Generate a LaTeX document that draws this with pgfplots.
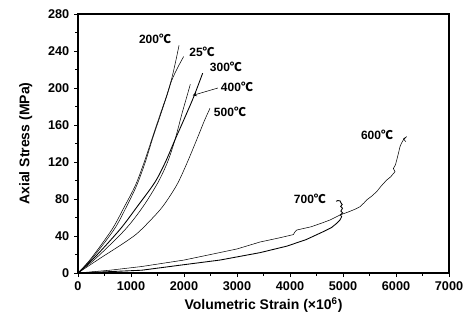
\documentclass[border=0pt]{standalone}
\usepackage{pgfplots}
\pgfplotsset{compat=1.18}
\usepackage{fontspec}
\setmainfont{Liberation Sans}
\newfontfamily\cjk{Noto Sans CJK SC}
\newcommand{\dc}{{\cjk ℃}}
\begin{document}
\begin{tikzpicture}
\begin{axis}[
  name=ax,
  scale only axis,
  width=278.25pt, height=194.25pt,
  xmin=0, xmax=7000, ymin=0, ymax=280,
  xtick={0,1000,...,7000}, ytick={0,40,...,280},
  minor x tick num=1, minor y tick num=1,
  xtick pos=bottom, ytick pos=left,
  tick align=outside,
  major tick length=3pt, minor tick length=2pt,
  axis line style={line width=0.9pt},
  every tick/.style={line width=0.7pt, black},
  scaled x ticks=false,
  /pgf/number format/assume math mode=true,
  /pgf/number format/set thousands separator={},
  ticklabel style={font=\bfseries\fontsize{9.5}{10}\selectfont},
  xlabel={\bfseries Volumetric Strain (×10\textsuperscript{6})},
  ylabel={\bfseries Axial Stress (MPa)},
  label style={font=\fontsize{10.5}{12}\selectfont},
  xlabel style={yshift=2pt},
  ylabel style={yshift=5pt},
  cycle list={{black, solid, line width=0.65pt, no marks}},
  clip=false,
]
% 200 C
\addplot+[smooth] coordinates {(0,0)(250,16)(640,47)(860,70)(1085,95)(1250,120)(1390,144)(1530,168)(1673,192)(1767,210)(1840,228)(1906,246)};
% 25 C
\addplot+[smooth] coordinates {(0,0)(270,16)(680,47)(900,70)(1110,95)(1270,120)(1400,144)(1540,168)(1680,192)(1767,208)(1880,222)(1994,234)};
% 300 C (longer)
\addplot+[smooth] coordinates {(0,0)(300,16)(790,47)(1120,72)(1450,98)(1650,120)(1830,144)(2000,166)(2180,190)(2352,216)};
% 400 C (shorter)
\addplot+[smooth] coordinates {(0,0)(340,16)(890,47)(1230,72)(1510,98)(1690,120)(1830,144)(1960,172)(2050,190)(2119,204)};
% 500 C
\addplot+[smooth] coordinates {(0,0)(420,16)(800,30)(1100,42)(1350,56)(1600,72)(1862,95)(2050,118)(2239,144)(2380,164)(2490,178)};
% 600 C
\addplot coordinates {(0,0)(600,3)(1200,7)(2000,14)(2460,19.5)(3000,26)(3434,33.5)(3800,38)(4062,41.5)(4100,45)(4130,46.5)(4400,50)(4600,54)(4755,57.3)(4943,62.7)(5100,66)(5230,69)(5321,71.7)(5400,76)(5447,79)(5540,83)(5636,88)(5720,94)(5824,100.5)(5900,104)(5981,109.5)(5950,113)(5990,117)(6013,122)(6040,128)(6075,136.5)(6100,140)(6138,143.8)(6201,147.4)(6140,145)(6185,142)};
% 700 C
\addplot coordinates {(0,0)(1200,3)(2000,9)(2679,14)(3434,22)(3937,29)(4300,36)(4628,44.7)(4780,49)(4881,53.7)(4940,57)(4975,60.9)(4950,63)(4995,65)(4960,67)(4990,70)(4955,72)(4985,74)(4960,76)(4943,78)(4900,78.3)(4870,77.5)};
% labels
\node[font=\bfseries\fontsize{9}{10}\selectfont] at (axis cs:1453,253) {200\dc};
\node[font=\bfseries\fontsize{9}{10}\selectfont] at (axis cs:2340,239) {25\dc};
\node[font=\bfseries\fontsize{9}{10}\selectfont] at (axis cs:2792,223) {300\dc};
\node[font=\bfseries\fontsize{9}{10}\selectfont] at (axis cs:3000,201) {400\dc};
\node[font=\bfseries\fontsize{9}{10}\selectfont] at (axis cs:2868,174) {500\dc};
\node[font=\bfseries\fontsize{9}{10}\selectfont] at (axis cs:5642,149) {600\dc};
\node[font=\bfseries\fontsize{9}{10}\selectfont] at (axis cs:4377,80) {700\dc};
\draw[-stealth, line width=0.4pt] (axis cs:2640,200) -- (axis cs:2164,192);
\end{axis}
\pgfresetboundingbox
\path[use as bounding box] ([shift={(-58.5pt,-38.25pt)}]ax.south west) rectangle ([shift={(14.25pt,10.5pt)}]ax.north east);
\end{tikzpicture}
\end{document}
